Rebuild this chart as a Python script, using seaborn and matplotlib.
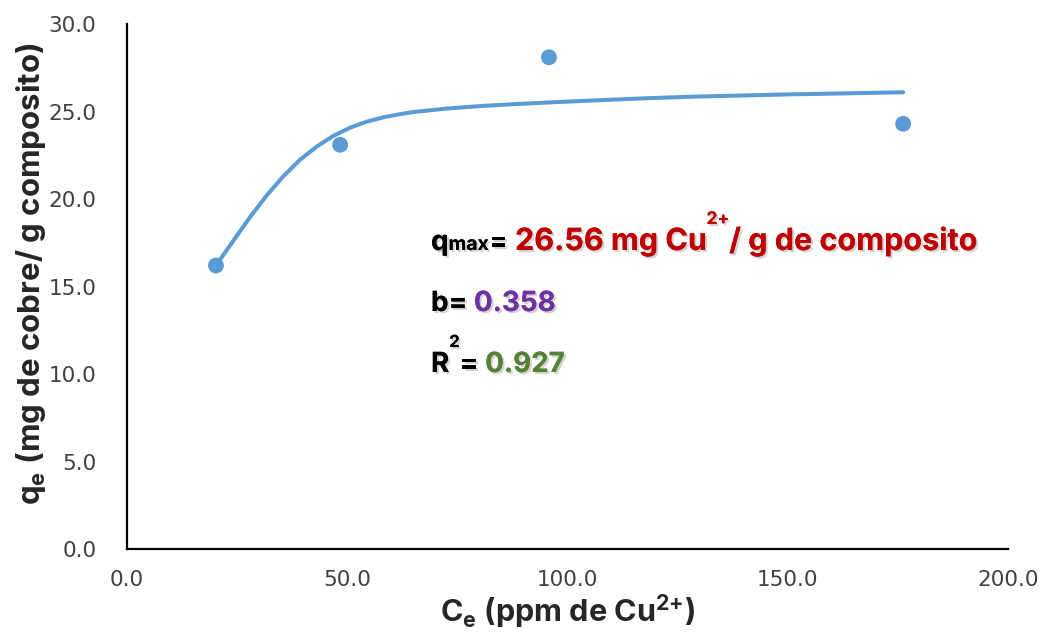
import matplotlib
matplotlib.use("Agg")
import matplotlib.pyplot as plt
import matplotlib.patheffects as pe
from matplotlib.transforms import IdentityTransform
import pandas as pd
import seaborn as sns

# Measured points (Ce, qe)
ce = [20.2, 48.4, 95.8, 176.2]
qe = [16.2, 23.1, 28.1, 24.3]

# Smoothed model curve
fit_ce = [20.2, 24.1, 27.9, 31.7, 35.5, 39.3, 43.1, 46.8, 50.6, 54.4, 58.2, 62.0,
          65.0, 72.6, 80.0, 87.7, 95.0, 102.8, 118.0, 128.5, 150.5, 176.2]
fit_qe = [16.2, 17.6, 18.95, 20.2, 21.3, 22.25, 23.0, 23.6, 24.07, 24.42, 24.67, 24.85,
          24.97, 25.17, 25.31, 25.42, 25.51, 25.6, 25.76, 25.85, 25.98, 26.1]

x_ticks = [0, 50, 100, 150, 200]
y_ticks = [0, 5, 10, 15, 20, 25, 30]

sns.set_theme(style="white")
font = 'Inter'
plt.rcParams['font.family'] = [font, 'DejaVu Sans']
plt.rcParams['mathtext.fontset'] = 'custom'
plt.rcParams['mathtext.rm'] = font
plt.rcParams['mathtext.bf'] = font + ':bold'
plt.rcParams['mathtext.it'] = font + ':bold'

blue = '#5B9BD5'
points = pd.DataFrame({'Ce': ce, 'qe': qe})
curve = pd.DataFrame({'Ce': fit_ce, 'qe': fit_qe})

fig = plt.figure(figsize=(10.44, 6.39), dpi=100)
ax = fig.add_axes([0.1216, 0.1408, 0.8439, 0.8216])

sns.lineplot(data=curve, x='Ce', y='qe', sort=False, estimator=None, color=blue,
             linewidth=2.9, ax=ax, solid_capstyle='round', solid_joinstyle='round')
sns.scatterplot(data=points, x='Ce', y='qe', color=blue, s=130, edgecolor='none', ax=ax, zorder=3)

ax.set_xlim(0, 200)
ax.set_ylim(0, 30)
ax.set_xticks(x_ticks)
ax.set_yticks(y_ticks)
ax.set_xticklabels([f'{v:.1f}' for v in x_ticks], family='DejaVu Sans')
ax.set_yticklabels([f'{v:.1f}' for v in y_ticks], family='DejaVu Sans')
ax.tick_params(axis='both', length=0, labelsize=15.5, labelcolor='#404040')
ax.tick_params(axis='x', pad=15)
ax.tick_params(axis='y', pad=22)

for s in ['top', 'right']:
    ax.spines[s].set_visible(False)
for s in ['left', 'bottom']:
    ax.spines[s].set_color('black')
    ax.spines[s].set_linewidth(1.6)

ax.set_xlabel(r'C$_\mathbf{e}$ (ppm de Cu$^\mathbf{2{+}}$)', fontsize=22, fontweight='bold', labelpad=2)
ax.set_ylabel(r'q$_\mathbf{e}$ (mg de cobre/ g composito)', fontsize=22.5, fontweight='bold', labelpad=8)
ax.yaxis.set_label_coords(-0.09, 0.525)

shadow = [pe.withSimplePatchShadow(offset=(1.5, -1.5), shadow_rgbFace='gray', alpha=0.35), pe.Normal()]
H = 639


def chain(pieces, x0, base):
    # draw text pieces one after the other; positions in pixels from the top-left
    x = x0
    for txt, col, size, dy in pieces:
        t = fig.text(x, H - base + dy, txt, color=col, fontsize=size, fontweight='bold',
                     va='baseline', ha='left', transform=IdentityTransform())
        t.set_path_effects(shadow)
        fig.canvas.draw()
        x = t.get_window_extent().x1


chain([('q', 'black', 20, 0), ('max', 'black', 14, 0), ('=', 'black', 20, 0),
       (' 26.56 mg Cu', '#C00000', 22, 0), ('2+', '#C00000', 12.5, 26),
       ('/ g de composito', '#C00000', 22, 0)], 431, 250)
chain([('b= ', 'black', 20, 0), ('0.358', '#7030A0', 20, 0)], 431, 311)
chain([('R', 'black', 20, 0), ('2', 'black', 12, 25), ('= ', 'black', 20, 0),
       ('0.927', '#548235', 20, 0)], 431, 372)

fig.savefig('out.png', dpi=100)
